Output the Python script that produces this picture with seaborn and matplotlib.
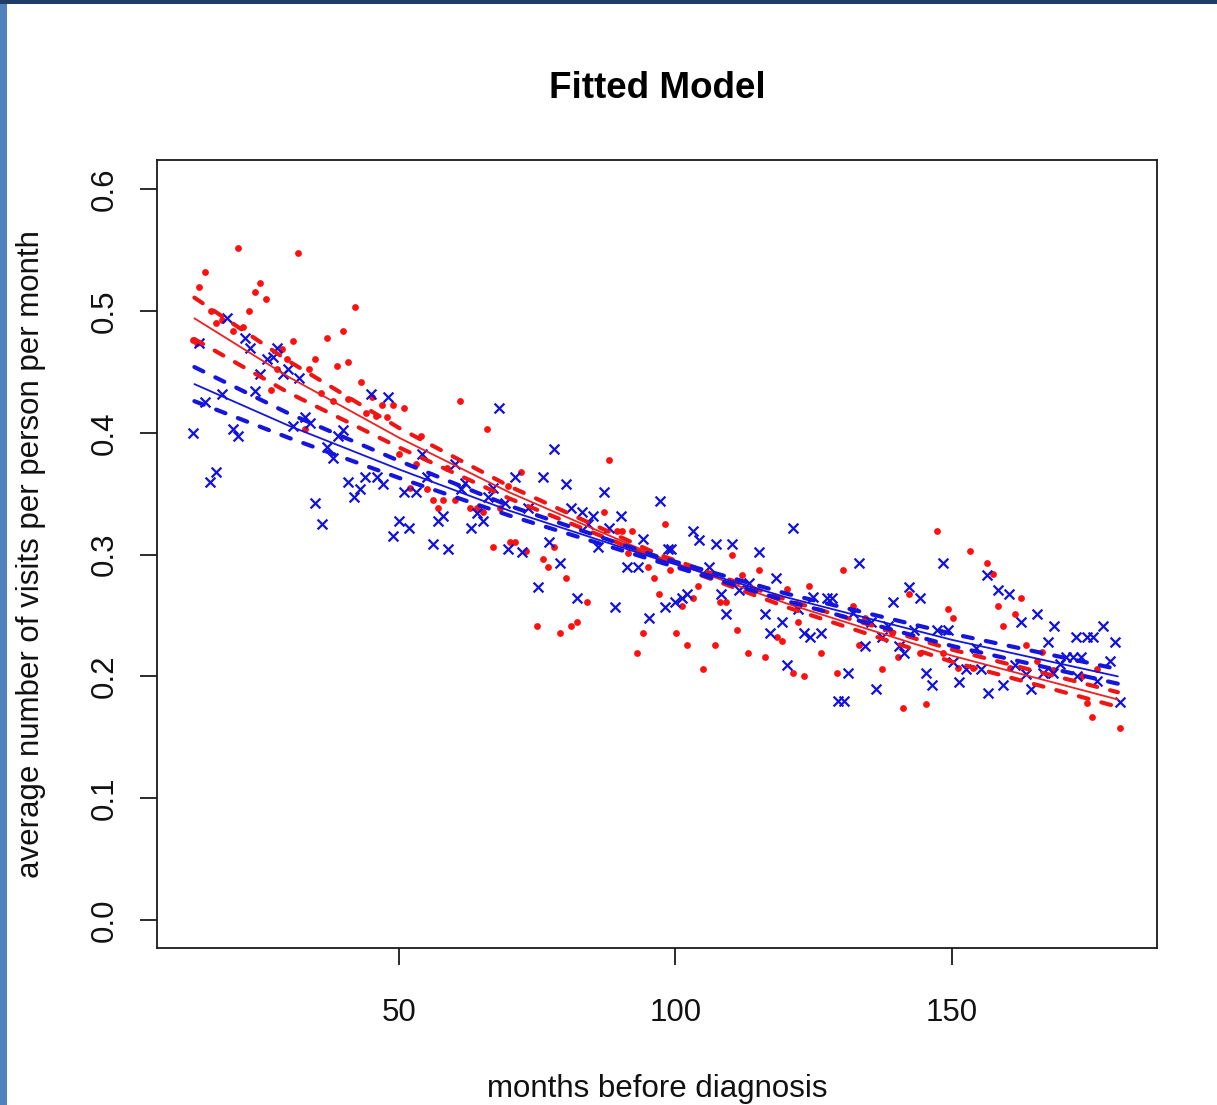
import numpy as np
import pandas as pd
import matplotlib
matplotlib.use("Agg")
import matplotlib.pyplot as plt
import seaborn as sns
from matplotlib.patches import Rectangle

# ---------------- data ----------------
red_x = [20.9, 31.7, 14.9, 13.8, 24.9, 24.0, 25.9, 16.0, 22.9, 16.9, 18.0, 20.0, 21.8, 12.7, 13.5,
         39.9, 37.0, 30.8, 28.8, 29.7, 34.8, 38.8, 40.8, 33.7, 27.9, 26.8, 35.9, 38.1, 40.8, 33.0,
         42.0, 43.1, 45.1, 46.9, 48.9, 50.9, 44.0, 45.8, 47.8, 61.0, 54.0, 65.9, 50.0, 53.1, 58.7,
         52.0, 55.1, 56.1, 57.0, 57.9, 60.1, 62.8, 64.1, 65.2, 67.0, 69.7, 68.3,
         72.0, 88.0, 87.1, 98.1, 70.1, 71.0, 73.0, 78.0, 76.0, 76.9, 80.2, 89.4, 90.3, 92.1, 95.0,
         96.1, 97.0, 84.0, 74.9, 79.1, 81.1, 82.2, 94.1, 93.0, 91.4,
         110.2, 115.1, 112.0, 99.0, 104.1, 103.1, 101.2, 108.0, 109.1, 111.1, 100.1, 102.1, 107.1,
         105.0, 113.1, 116.2, 124.1, 120.2, 122.1, 118.3, 119.3, 126.3, 121.2, 123.2,
         147.3, 153.2, 156.3, 130.3, 142.2, 132.1, 149.2, 150.2, 134.2, 129.2, 137.3, 141.1, 145.3,
         133.2, 139.1, 140.2, 144.2, 148.3, 151.1, 153.8,
         157.4, 162.5, 158.3, 161.4, 159.2, 163.4, 165.4, 160.5, 168.3, 176.2, 173.5, 174.4, 175.3,
         180.4, 166.3]
red_y = [0.552, 0.548, 0.532, 0.520, 0.523, 0.516, 0.510, 0.500, 0.500, 0.490, 0.493, 0.484, 0.487, 0.476, 0.474,
         0.484, 0.478, 0.475, 0.469, 0.461, 0.461, 0.455, 0.458, 0.452, 0.452, 0.435, 0.433, 0.426, 0.428, 0.403,
         0.503, 0.442, 0.429, 0.423, 0.423, 0.420, 0.416, 0.414, 0.413, 0.426, 0.397, 0.403, 0.383, 0.374, 0.371,
         0.355, 0.354, 0.345, 0.338, 0.345, 0.345, 0.338, 0.338, 0.335, 0.306, 0.356, 0.338,
         0.368, 0.378, 0.335, 0.325, 0.310, 0.310, 0.303, 0.306, 0.296, 0.290, 0.281, 0.319, 0.319, 0.319, 0.290,
         0.281, 0.268, 0.261, 0.241, 0.236, 0.241, 0.245, 0.236, 0.219, 0.301,
         0.300, 0.287, 0.283, 0.287, 0.274, 0.264, 0.258, 0.261, 0.261, 0.238, 0.236, 0.226, 0.226,
         0.206, 0.219, 0.216, 0.274, 0.272, 0.245, 0.232, 0.229, 0.219, 0.203, 0.200,
         0.319, 0.303, 0.293, 0.287, 0.268, 0.258, 0.255, 0.248, 0.248, 0.203, 0.206, 0.174, 0.177,
         0.226, 0.236, 0.216, 0.219, 0.219, 0.207, 0.207,
         0.284, 0.264, 0.258, 0.251, 0.241, 0.226, 0.213, 0.207, 0.205, 0.206, 0.200, 0.178, 0.167,
         0.158, 0.220]

blue_x = [18.9, 13.8, 22.1, 23.1, 27.9, 26.1, 27.2, 24.9, 29.9, 29.0, 31.9, 24.0, 18.0, 14.9, 12.7,
          20.0, 20.9, 33.0, 33.9, 30.8, 37.0, 38.1, 39.0, 39.9, 16.9, 15.8, 34.8, 36.1, 40.8,
          44.9, 48.0, 68.1, 54.2, 60.1, 55.1, 43.8, 46.0, 47.1, 42.9, 41.9, 50.9, 53.1, 61.9, 61.2,
          67.0, 66.1, 50.0, 51.8, 48.9, 57.0, 57.9, 64.1, 65.2, 63.0, 56.1, 58.9, 69.7,
          78.0, 71.0, 76.0, 80.2, 87.1, 97.2, 69.2, 73.3, 81.1, 83.1, 85.1, 90.1, 84.2, 88.0, 94.1,
          98.6, 72.2, 77.1, 86.0, 79.1, 91.2, 93.2, 75.1, 82.2, 89.1, 95.2, 98.1,
          121.2, 103.2, 104.3, 107.3, 110.2, 115.1, 99.2, 106.1, 118.2, 113.3, 111.5, 108.2, 102.1,
          101.2, 99.9, 109.1, 116.2, 119.3, 122.2, 117.1, 123.2, 124.3, 126.3, 120.2, 124.9, 127.4,
          133.2, 148.4, 156.3, 142.2, 144.2, 139.3, 128.3, 132.1, 135.4, 138.4, 143.1, 147.3, 149.3,
          154.3, 137.3, 140.4, 141.3, 150.2, 152.5, 155.2, 134.3, 145.3, 146.4, 151.3, 131.2, 136.3,
          129.4, 130.5, 156.5,
          158.3, 160.3, 162.5, 165.4, 168.4, 167.3, 172.4, 174.4, 175.5, 177.3, 179.5, 170.6, 171.9,
          173.3, 178.6, 169.5, 161.4, 163.4, 166.5, 168.3, 172.6, 176.2, 159.2, 164.3, 180.4]
blue_y = [0.494, 0.474, 0.478, 0.470, 0.470, 0.461, 0.462, 0.448, 0.452, 0.448, 0.445, 0.434, 0.432, 0.425, 0.400,
          0.403, 0.397, 0.413, 0.408, 0.406, 0.388, 0.379, 0.397, 0.402, 0.368, 0.360, 0.342, 0.325, 0.360,
          0.432, 0.429, 0.420, 0.383, 0.374, 0.364, 0.364, 0.364, 0.358, 0.354, 0.347, 0.351, 0.351, 0.359, 0.354,
          0.355, 0.347, 0.328, 0.322, 0.315, 0.328, 0.332, 0.334, 0.328, 0.322, 0.309, 0.305, 0.305,
          0.387, 0.364, 0.364, 0.358, 0.351, 0.344, 0.342, 0.338, 0.338, 0.335, 0.332, 0.332, 0.325, 0.322, 0.313,
          0.305, 0.302, 0.310, 0.306, 0.293, 0.290, 0.290, 0.273, 0.264, 0.257, 0.248, 0.257,
          0.322, 0.319, 0.312, 0.309, 0.309, 0.302, 0.305, 0.290, 0.281, 0.277, 0.271, 0.268, 0.268,
          0.264, 0.261, 0.251, 0.251, 0.245, 0.255, 0.236, 0.236, 0.232, 0.236, 0.209, 0.265, 0.264,
          0.293, 0.293, 0.283, 0.273, 0.264, 0.261, 0.264, 0.252, 0.245, 0.241, 0.238, 0.238, 0.238,
          0.223, 0.232, 0.225, 0.219, 0.212, 0.206, 0.206, 0.225, 0.203, 0.193, 0.195, 0.203, 0.190,
          0.180, 0.180, 0.186,
          0.271, 0.268, 0.245, 0.251, 0.241, 0.228, 0.232, 0.232, 0.232, 0.241, 0.228, 0.216, 0.216,
          0.216, 0.213, 0.210, 0.209, 0.202, 0.203, 0.203, 0.200, 0.196, 0.193, 0.190, 0.179]

# fitted model curves and confidence bands, read at these months
fit_x = [13, 30, 50, 70, 97, 120, 150, 180]
red_fit = [0.494, 0.446, 0.396, 0.351, 0.298, 0.260, 0.217, 0.181]
red_hi = [0.511, 0.459, 0.404, 0.356, 0.300, 0.263, 0.222, 0.187]
red_lo = [0.477, 0.433, 0.388, 0.346, 0.296, 0.257, 0.212, 0.175]
blue_fit = [0.440, 0.406, 0.370, 0.336, 0.296, 0.265, 0.230, 0.200]
blue_hi = [0.454, 0.416, 0.377, 0.340, 0.298, 0.268, 0.235, 0.206]
blue_lo = [0.426, 0.396, 0.363, 0.332, 0.294, 0.262, 0.225, 0.194]

x_ticks = [50, 100, 150]
y_ticks = [0.0, 0.1, 0.2, 0.3, 0.4, 0.5, 0.6]
title = "Fitted Model"
x_label = "months before diagnosis"
y_label = "average number of visits per person per month"

# ---------------- figure ----------------
sns.set_style("white")
plt.rcParams["font.family"] = ["Liberation Sans", "DejaVu Sans"]

W, H = 1217, 1105
fig = plt.figure(figsize=(W / 100, H / 100), dpi=100)
fig.patch.set_facecolor("white")

# slide frame (left blue strip, top dark strip)
fig.patches.append(Rectangle((0, 0), 7 / W, 1, transform=fig.transFigure,
                             facecolor="#4f81bd", edgecolor="none", zorder=0))
fig.patches.append(Rectangle((0, 1 - 4 / H), 1, 4 / H, transform=fig.transFigure,
                             facecolor="#1f3d66", edgecolor="none", zorder=0))

ax = fig.add_axes([157 / W, 1 - 948 / H, 1000 / W, 788 / H])

red_df = pd.DataFrame({"x": red_x, "y": red_y})
blue_df = pd.DataFrame({"x": blue_x, "y": blue_y})
fit_df = pd.DataFrame({"x": fit_x, "red_fit": red_fit, "red_hi": red_hi, "red_lo": red_lo,
                       "blue_fit": blue_fit, "blue_hi": blue_hi, "blue_lo": blue_lo})

sns.scatterplot(data=red_df, x="x", y="y", ax=ax, color="#ff1010", marker="o",
                s=24, linewidth=0, zorder=3)
sns.scatterplot(data=blue_df, x="x", y="y", ax=ax, color="#1010e0", marker="x",
                s=50, linewidth=1.6, zorder=3)

dash = (2.4, 3.2)
series = [("red_fit", "#ee2020", False), ("red_hi", "#ee1515", True), ("red_lo", "#ee1515", True),
          ("blue_fit", "#1515dd", False), ("blue_hi", "#1515dd", True), ("blue_lo", "#1515dd", True)]
for col, colr, dashed in series:
    sns.lineplot(data=fit_df, x="x", y=col, ax=ax, color=colr, lw=3.0 if dashed else 1.3,
                 estimator=None, sort=True, zorder=4)
    ln = ax.lines[-1]
    if dashed:
        ln.set_dashes(dash)
        ln.set_dash_capstyle("round")

ax.set_xlim(6.24, 187.07)
ax.set_ylim(-0.023, 0.624)
ax.set_xticks(x_ticks)
ax.set_xticklabels([str(t) for t in x_ticks])
ax.set_yticks(y_ticks)
ax.set_yticklabels([f"{t:.1f}" for t in y_ticks], rotation=90, va="center")

for sp in ax.spines.values():
    sp.set_visible(True)
    sp.set_color("#1a1a1a")
    sp.set_linewidth(1.3)

ax.tick_params(axis="both", direction="out", length=12, width=1.3, color="#1a1a1a",
               labelsize=22.5, labelcolor="#111111", left=True, bottom=True)
ax.tick_params(axis="x", pad=24)
ax.tick_params(axis="y", pad=15)

ax.set_xlabel(x_label, fontsize=22.5, color="#111111")
ax.set_ylabel(y_label, fontsize=22.5, color="#111111")
ax.xaxis.set_label_coords(0.5, -0.16)
ax.yaxis.set_label_coords(-0.111, 0.5)
ax.set_title(title, fontsize=26.5, fontweight="bold", pad=45, color="black")

fig.savefig("out.png", dpi=100)
